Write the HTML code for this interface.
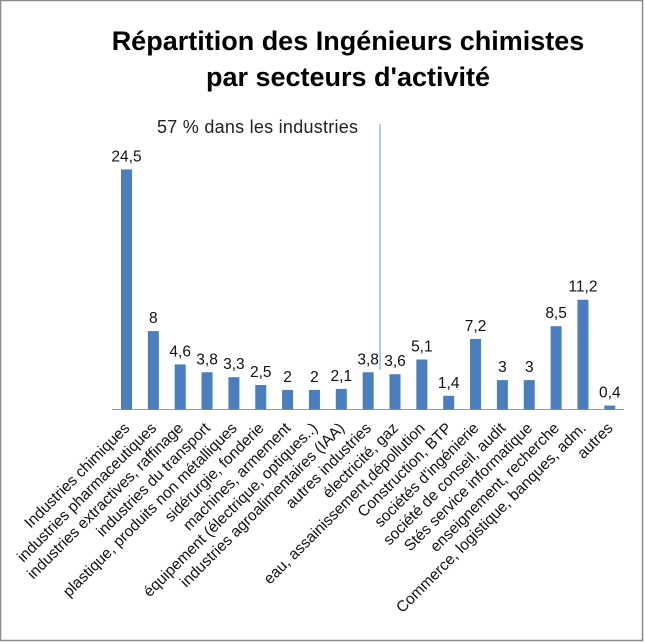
<!DOCTYPE html>
<html><head><meta charset="utf-8"><style>
html,body{margin:0;padding:0;background:#fff;}
svg{display:block;font-family:"Liberation Sans",sans-serif;}
</style></head><body>
<svg width="645" height="643" viewBox="0 0 645 643" xmlns="http://www.w3.org/2000/svg">
<rect x="0.5" y="0.5" width="642" height="640" fill="#fff" stroke="#8a8a8a" stroke-width="1.5"/>
<text x="348" y="50" text-anchor="middle" font-size="27" font-weight="bold" fill="#000">Répartition des Ingénieurs chimistes</text>
<text x="348" y="86" text-anchor="middle" font-size="27" font-weight="bold" fill="#000">par secteurs d'activité</text>
<text x="157" y="133" font-size="18" fill="#222" textLength="201">57 % dans les industries</text>
<line x1="380" y1="124" x2="380" y2="370" stroke="#7ea6d8" stroke-width="1.2"/>
<line x1="112" y1="409.5" x2="624" y2="409.5" stroke="#999" stroke-width="1"/>
<g id="bars" fill="#4a7ebf"></g>
<g id="vals" font-size="15.5" fill="#111" text-anchor="middle"></g>
<g id="labs" font-size="15.5" fill="#111" text-anchor="end"></g>
</svg>
<script>
(function(){
var v=[24.5,8,4.6,3.8,3.3,2.5,2,2,2.1,3.8,3.6,5.1,1.4,7.2,3,3,8.5,11.2,0.4];
var vs=["24,5","8","4,6","3,8","3,3","2,5","2","2","2,1","3,8","3,6","5,1","1,4","7,2","3","3","8,5","11,2","0,4"];
var L=["Industries chimiques","industries pharmaceutiques","industries extractives, raffinage","industries du transport","plastique, produits non métalliques","sidérurgie, fonderie","machines, armement","équipement (électrique, optiques..)","industries agroalimentaires (IAA)","autres industries","électricité, gaz","eau, assainissement,dépollution","Construction, BTP","sociétés d'ingénierie","société de conseil, audit","Stés service informatique","enseignement, recherche","Commerce, logistique, banques, adm.","autres"];
var ns="http://www.w3.org/2000/svg",B=document.getElementById("bars"),V=document.getElementById("vals"),T=document.getElementById("labs");
for(var i=0;i<19;i++){var cx=126.5+i*26.85,h=v[i]*9.8,yt=409.5-h;
var r=document.createElementNS(ns,"rect");r.setAttribute("x",cx-5.5);r.setAttribute("y",yt);r.setAttribute("width",11);r.setAttribute("height",h);B.appendChild(r);
var t=document.createElementNS(ns,"text");t.setAttribute("x",cx);t.setAttribute("y",yt-8);t.textContent=vs[i];V.appendChild(t);
var l=document.createElementNS(ns,"text");var ax=cx+4,ay=429;l.setAttribute("x",ax);l.setAttribute("y",ay);l.setAttribute("transform","rotate(-45 "+ax+" "+ay+")");l.textContent=L[i];T.appendChild(l);}
})();
</script>
</body></html>
